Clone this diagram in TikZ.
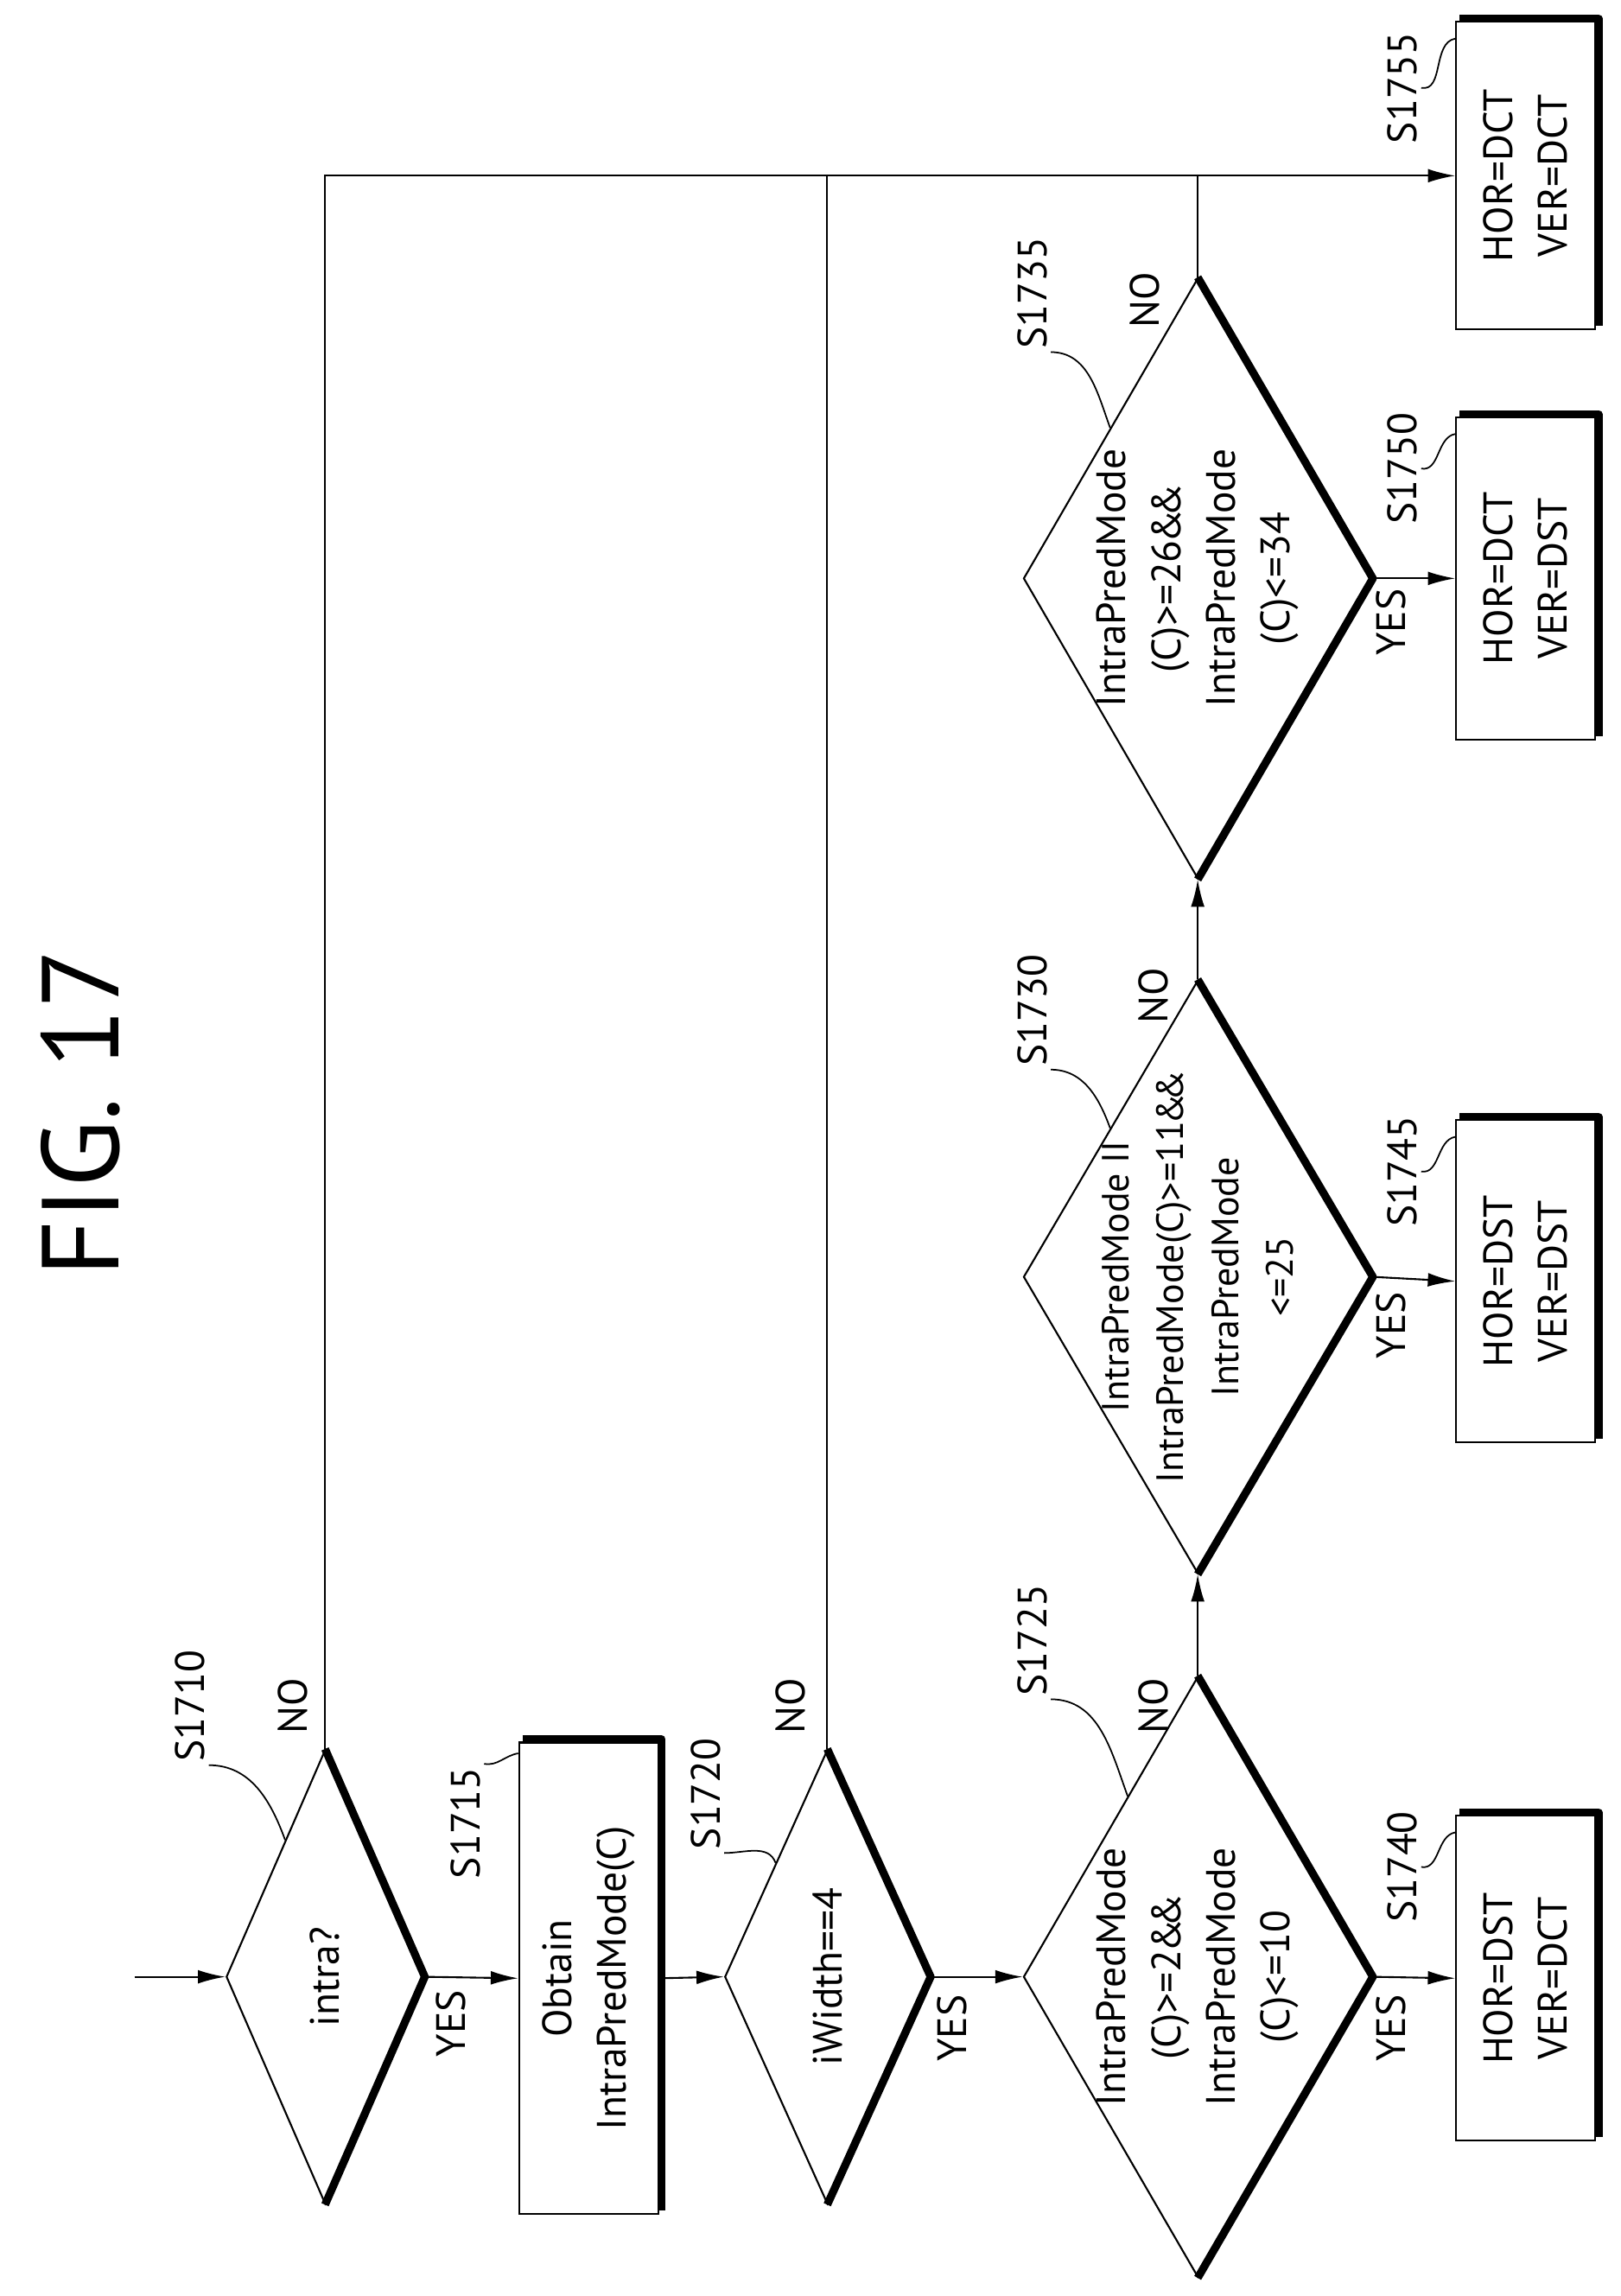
\documentclass[tikz,border=0pt]{standalone}
\usepackage{fontspec}
\setmainfont{PT Sans}
\usetikzlibrary{shapes.geometric,positioning,calc,arrows.meta}
\def\u{0.016938cm}
\newcommand{\aand}{\kern-1pt\&\kern-2.5pt\&}
\begin{document}
\begin{tikzpicture}[x=\u,y=-\u]

% styles
\tikzstyle{dia} = [diamond, draw, inner sep=0pt, line width=0.6pt]
\tikzstyle{bx} = [rectangle, draw, line width=0.6pt, inner sep=0pt]
\tikzstyle{bold} = [line width=2.6pt, line join=round]
\tikzstyle{txt} = [rotate=90, align=center, font=\fontsize{13.5}{18}\selectfont]
\tikzstyle{lbl} = [rotate=90, inner sep=1pt, font=\fontsize{13.5}{15}\selectfont]
\tikzstyle{flow} = [line width=0.6pt, -{Latex[length=9pt,width=4.5pt]}]
\tikzstyle{leader} = [line width=0.5pt]

\useasboundingbox (0,0) rectangle (1107,1568);

\node[rotate=90, font=\fontsize{36}{40}\selectfont] (title) at (55,760) {FIG. 17};

% decisions
\node[dia, minimum width=135*\u, minimum height=310*\u] (s1710) at (222,1350) {};
\node[dia, minimum width=140*\u, minimum height=310*\u] (s1720) at (565,1350) {};
\node[dia, minimum width=238*\u, minimum height=410*\u] (s1725) at (818,1350) {};
\node[dia, minimum width=238*\u, minimum height=405*\u] (s1730) at (818,872) {};
\node[dia, minimum width=238*\u, minimum height=410*\u] (s1735) at (818,395) {};
\foreach \n in {s1710,s1720,s1725,s1730,s1735}
  \draw[bold] (\n.north) -- (\n.east) -- (\n.south);

\node[txt] at (s1710) {intra?};
\node[txt] at (s1720) {iWidth==4};
\node[txt] at (s1725) {IntraPredMode\\(C)>=2\aand\\IntraPredMode\\(C)<=10};
\node[txt, font=\fontsize{12.5}{18}\selectfont] at (s1730) {IntraPredMode II\\IntraPredMode(C)>=11\aand\\IntraPredMode\\<=25};
\node[txt] at (s1735) {IntraPredMode\\(C)>=26\aand\\IntraPredMode\\(C)<=34};

% boxes
\node[bx, minimum width=95*\u, minimum height=322*\u] (b1715) at (402,1351) {};
\node[bx, minimum width=95*\u, minimum height=222*\u] (b1740) at (1042,1351) {};
\node[bx, minimum width=95*\u, minimum height=220*\u] (b1745) at (1042,875) {};
\node[bx, minimum width=95*\u, minimum height=220*\u] (b1750) at (1042,395) {};
\node[bx, minimum width=95*\u, minimum height=210*\u] (b1755) at (1042,120) {};
\foreach \n in {b1715,b1740,b1745,b1750,b1755}
  \draw[bold] ($(\n.north west)+(1.5pt,0.8pt)$) -- ($(\n.north east)+(0.8pt,0.8pt)$) -- ($(\n.south east)+(0.8pt,1.5pt)$);

\node[txt] at (b1715) {Obtain\\IntraPredMode(C)};
\node[txt] at (b1740) {HOR=DST\\VER=DCT};
\node[txt] at (b1745) {HOR=DST\\VER=DST};
\node[txt] at (b1750) {HOR=DCT\\VER=DST};
\node[txt] at (b1755) {HOR=DCT\\VER=DCT};

% connectors
\coordinate (start) at (92,1350);
\draw[flow] (start) -- (s1710.west);
\draw[flow] (s1710.east) -- (b1715.west);
\draw[flow] (b1715.east) -- (s1720.west);
\draw[flow] (s1720.east) -- (s1725.west);
\draw[flow] (s1725.east) -- (b1740.west);
\draw[flow] (s1725.north) -- (s1730.south);
\draw[flow] (s1730.east) -- (b1745.west);
\draw[flow] (s1730.north) -- (s1735.south);
\draw[flow] (s1735.east) -- (b1750.west);
\draw[flow] (s1710.north) |- (b1755.west);
\draw[line width=0.6pt] (s1720.north) -- (s1720.north |- b1755.west);
\draw[line width=0.6pt] (s1735.north) -- (s1735.north |- b1755.west);

% YES / NO
\node[lbl] at (200,1165) {NO};
\node[lbl] at (308,1382) {YES};
\node[lbl] at (540,1165) {NO};
\node[lbl] at (650,1385) {YES};
\node[lbl] at (788,1165) {NO};
\node[lbl] at (950,1385) {YES};
\node[lbl] at (788,680) {NO};
\node[lbl] at (950,905) {YES};
\node[lbl] at (782,205) {NO};
\node[lbl] at (950,425) {YES};

% step labels
\node[lbl] (l1710) at (130,1165) {S1710};
\node[lbl] (l1715) at (318,1245) {S1715};
\node[lbl] (l1720) at (482,1225) {S1720};
\node[lbl] (l1725) at (705,1120) {S1725};
\node[lbl] (l1730) at (705,690) {S1730};
\node[lbl] (l1735) at (705,200) {S1735};
\node[lbl] (l1740) at (958,1275) {S1740};
\node[lbl] (l1745) at (958,800) {S1745};
\node[lbl] (l1750) at (958,320) {S1750};
\node[lbl] (l1755) at (958,60) {S1755};

\draw[leader] (l1710.south west) to[out=0,in=110] ($(s1710.west)!0.6!(s1710.north)$);
\draw[leader] (l1720.south west) to[out=0,in=110] ($(s1720.west)!0.5!(s1720.north)$);
\draw[leader] (l1725.south west) to[out=0,in=110] ($(s1725.west)!0.6!(s1725.north)$);
\draw[leader] (l1730.south west) to[out=0,in=110] ($(s1730.west)!0.5!(s1730.north)$);
\draw[leader] (l1735.south west) to[out=0,in=110] ($(s1735.west)!0.5!(s1735.north)$);
\draw[leader] (l1715.south east) to[out=-10,in=190] ($(b1715.north west)+(0,8)$);
\draw[leader] (l1740.south) to[out=-10,in=190] ($(b1740.north west)+(0,12)$);
\draw[leader] (l1745.south) to[out=-10,in=190] ($(b1745.north west)+(0,12)$);
\draw[leader] (l1750.south) to[out=-10,in=190] ($(b1750.north west)+(0,12)$);
\draw[leader] (l1755.south) to[out=-10,in=190] ($(b1755.north west)+(0,12)$);
\end{tikzpicture}
\end{document}
